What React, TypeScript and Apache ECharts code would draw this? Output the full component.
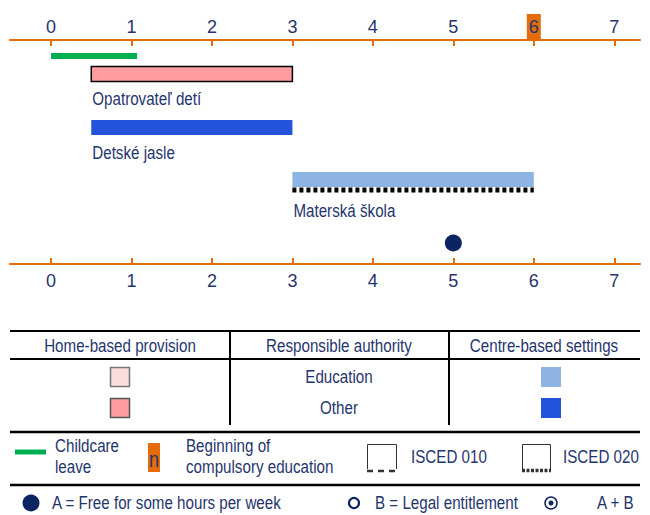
import React, { useEffect, useRef } from "react";
import * as echarts from "echarts";

// ---- data ----
const ageTicks = [0, 1, 2, 3, 4, 5, 6, 7];
const compulsoryAge = 6;
const childcareLeave = [0, 1.07];
const barNames = ["Opatrovateľ detí", "Detské jasle", "Materská škola"];
const barStart = [0.5, 0.5, 3];
const barEnd = [3, 3, 6];
const barKind = ["home-other", "centre-other", "centre-education"];
const barIsced = ["", "", "020"];
const freeHoursAges = [5];

// ---- styles ----
const NAVY = "#1f356e";
const DOT = "#0c2461";
const ORANGE = "#e46c0a";
const FONT = "'Liberation Sans', Arial, sans-serif";
const FS = 18.5;
const NARROW = 0.82;
const KIND_COLOR: Record<string, string> = {
  "home-education": "#fadcdc",
  "home-other": "#ff9c9f",
  "centre-education": "#8db4e2",
  "centre-other": "#2352db",
};
// vertical layout (y offset from top axis line, px)
const LANE_LEAVE = 16;
const LANE_BARS = [34, 87.5, 139.5];
const LANE_DOT = 203;

export default function App() {
  const ref = useRef<HTMLDivElement>(null);
  useEffect(() => {
    if (!ref.current) return;
    const chart = echarts.init(ref.current, null, { renderer: "svg" });

    const axisCommon = (pos: "top" | "bottom", idx: number) => ({
      type: "value",
      position: pos,
      gridIndex: 0,
      min: -0.51,
      max: 7.32,
      splitLine: { show: false },
      axisLine: { show: true, lineStyle: { color: ORANGE, width: 2 } },
      axisTick: {
        show: true,
        inside: true,
        length: 6,
        customValues: ageTicks,
        lineStyle: { color: ORANGE, width: 2 },
      },
      axisLabel: {
        show: true,
        customValues: ageTicks,
        margin: pos === "top" ? 1 : 4,
        color: NAVY,
        fontSize: 18,
        fontFamily: FONT,
        formatter: (v: number) =>
          idx === 0 && v === compulsoryAge ? `{hl|${v}}` : `{n|${v}}`,
        rich: {
          n: { padding: [4, 2, 3, 2], color: NAVY, fontSize: 18, fontFamily: FONT },
          hl: {
            padding: [4, 2, 3, 2],
            backgroundColor: ORANGE,
            color: NAVY,
            fontSize: 18,
            fontFamily: FONT,
          },
        },
      },
    });

    const barData = barNames.map((n, i) => [barStart[i], barEnd[i], i]);

    const txt = (t: any, x: any, y: any, align = "left", size = FS, sx = NARROW) => ({
      type: "text",
      x,
      y,
      scaleX: sx,
      style: {
        text: t,
        x: 0,
        y: 0,
        fill: NAVY,
        fontSize: size,
        fontFamily: FONT,
        textAlign: align,
        textVerticalAlign: "middle",
      },
    });

    const option: any = {
      animation: false,
      grid: { left: 10, right: 10, top: 40, bottom: 251 },
      xAxis: [axisCommon("top", 0), axisCommon("bottom", 1)],
      yAxis: { type: "value", min: 0, max: 224, inverse: true, show: false },
      series: [
        {
          type: "custom",
          xAxisIndex: 0,
          data: [[childcareLeave[0], childcareLeave[1]]],
          renderItem: (params: any, api: any) => {
            const s = api.coord([api.value(0), LANE_LEAVE]);
            const e = api.coord([api.value(1), LANE_LEAVE]);
            return {
              type: "rect",
              shape: { x: s[0], y: s[1] - 3, width: e[0] - s[0], height: 6 },
              style: { fill: "#00b050" },
            };
          },
        },
        {
          type: "custom",
          xAxisIndex: 0,
          data: barData,
          renderItem: (params: any, api: any) => {
            const i = api.value(2);
            const y = LANE_BARS[i];
            const s = api.coord([api.value(0), y]);
            const e = api.coord([api.value(1), y]);
            const kind = barKind[i];
            const isHome = kind.startsWith("home");
            const children: any[] = [
              {
                type: "rect",
                shape: { x: s[0], y: s[1] - 7.5, width: e[0] - s[0], height: 15 },
                style: {
                  fill: KIND_COLOR[kind],
                  stroke: isHome ? "#000" : null,
                  lineWidth: isHome ? 1.5 : 0,
                },
              },
            ];
            let labelY = s[1] + 25;
            if (barIsced[i] === "020") {
              children.push({
                type: "line",
                shape: { x1: s[0], y1: s[1] + 10.5, x2: e[0], y2: s[1] + 10.5 },
                style: { stroke: "#000", lineWidth: 5, lineDash: [4, 3] },
              });
              labelY = s[1] + 31;
            }
            children.push(txt(barNames[i], s[0] + 1, labelY));
            return { type: "group", children };
          },
        },
        {
          type: "scatter",
          xAxisIndex: 0,
          symbol: "circle",
          symbolSize: 17,
          itemStyle: { color: DOT, opacity: 1 },
          data: freeHoursAges.map((a) => [a, LANE_DOT]),
        },
      ],
      graphic: [
        // table
        { type: "line", shape: { x1: 10, y1: 331, x2: 640, y2: 331 }, style: { stroke: "#000", lineWidth: 2 } },
        { type: "line", shape: { x1: 10, y1: 359, x2: 640, y2: 359 }, style: { stroke: "#000", lineWidth: 2 } },
        { type: "line", shape: { x1: 230, y1: 331, x2: 230, y2: 425 }, style: { stroke: "#000", lineWidth: 2 } },
        { type: "line", shape: { x1: 449, y1: 331, x2: 449, y2: 425 }, style: { stroke: "#000", lineWidth: 2 } },
        txt("Home-based provision", 120, 346, "center"),
        txt("Responsible authority", 339, 346, "center"),
        txt("Centre-based settings", 544, 346, "center"),
        txt("Education", 339, 377, "center"),
        txt("Other", 339, 408, "center"),
        { type: "rect", shape: { x: 110.5, y: 367.5, width: 19, height: 19 }, style: { fill: KIND_COLOR["home-education"], stroke: "#777", lineWidth: 1.5 } },
        { type: "rect", shape: { x: 110.5, y: 398.5, width: 19, height: 19 }, style: { fill: KIND_COLOR["home-other"], stroke: "#555", lineWidth: 1.5 } },
        { type: "rect", shape: { x: 541, y: 367, width: 20, height: 20 }, style: { fill: KIND_COLOR["centre-education"] } },
        { type: "rect", shape: { x: 541, y: 398, width: 20, height: 20 }, style: { fill: KIND_COLOR["centre-other"] } },
        // legend row 1
        { type: "line", shape: { x1: 10, y1: 432, x2: 640, y2: 432 }, style: { stroke: "#000", lineWidth: 2.5 } },
        { type: "line", shape: { x1: 15, y1: 452, x2: 46, y2: 452 }, style: { stroke: "#00b050", lineWidth: 5 } },
        { type: "rect", shape: { x: 148, y: 443, width: 12, height: 29 }, style: { fill: ORANGE } },
        txt("n", 154, 459, "center", 22),
        txt("Childcare", 55, 446),
        txt("leave", 55, 467),
        txt("Beginning of", 186, 446),
        txt("compulsory education", 186, 467),
        txt("ISCED 010", 411, 457),
        txt("ISCED 020", 563, 457),
        { type: "polyline", shape: { points: [[367.5, 469], [367.5, 444.5], [396.5, 444.5], [396.5, 469]] }, style: { stroke: "#333", lineWidth: 1, fill: null } },
        { type: "line", shape: { x1: 367, y1: 471, x2: 397, y2: 471 }, style: { stroke: "#333", lineWidth: 2.5, lineDash: [6, 5] } },
        { type: "polyline", shape: { points: [[522.5, 469], [522.5, 444.5], [550.5, 444.5], [550.5, 469]] }, style: { stroke: "#333", lineWidth: 1, fill: null } },
        { type: "line", shape: { x1: 522, y1: 470.5, x2: 551, y2: 470.5 }, style: { stroke: "#333", lineWidth: 3.5, lineDash: [3, 1.5] } },
        // legend row 2
        { type: "line", shape: { x1: 10, y1: 485, x2: 640, y2: 485 }, style: { stroke: "#000", lineWidth: 2.5 } },
        { type: "circle", shape: { cx: 31, cy: 503, r: 8.5 }, style: { fill: DOT } },
        { type: "circle", shape: { cx: 354, cy: 503, r: 5 }, style: { fill: "#fff", stroke: DOT, lineWidth: 2.2 } },
        { type: "circle", shape: { cx: 551, cy: 503, r: 6 }, style: { fill: "#fff", stroke: DOT, lineWidth: 1.5 } },
        { type: "circle", shape: { cx: 551, cy: 503, r: 2.5 }, style: { fill: DOT } },
        txt("A = Free for some hours per week", 52, 503),
        txt("B = Legal entitlement", 375, 503),
        txt("A + B", 597, 503),
      ],
    };
    chart.setOption(option);
    return () => chart.dispose();
  }, []);
  return (
    <div
      ref={ref}
      style={{ position: "absolute", left: 0, top: 0, width: 650, height: 515, background: "#fff" }}
    />
  );
}
